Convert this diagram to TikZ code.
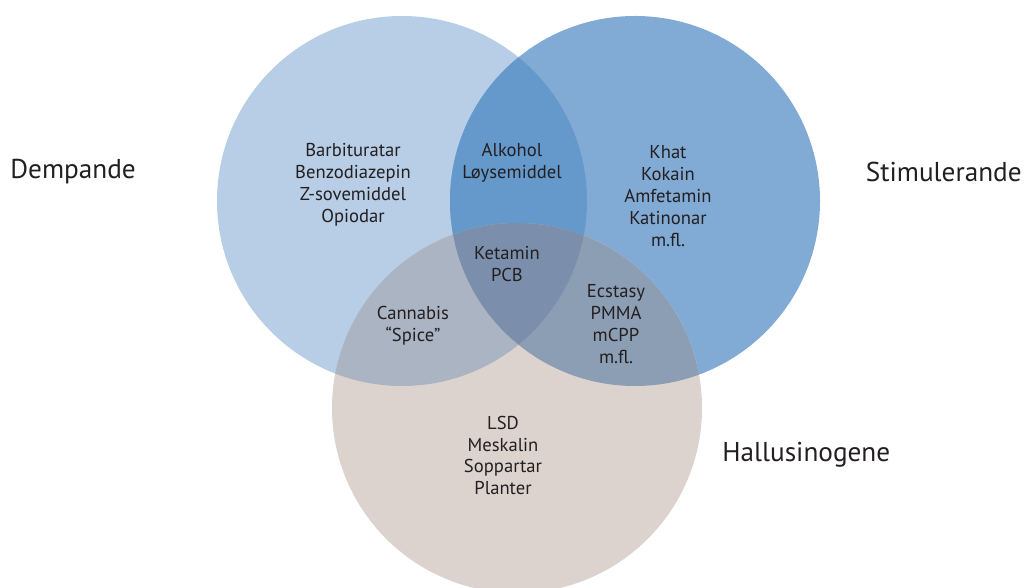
\documentclass[tikz,border=0pt]{standalone}
\usepackage{fontspec}
\setmainfont{PT Sans}
\usepackage{tikz}

\definecolor{textgray}{HTML}{231F20}
\definecolor{demfill}{HTML}{B7CEE6}
\definecolor{stimfill}{HTML}{81AAD4}
\definecolor{hallfill}{HTML}{DCD3CF}
\definecolor{demstim}{HTML}{6699CB}
\definecolor{demhall}{HTML}{AAB4C2}
\definecolor{stimhall}{HTML}{8C9EB4}
\definecolor{allthree}{HTML}{7B8FAC}

\begin{document}
\begin{tikzpicture}[
        every node/.style={text=textgray},
        group/.style={font=\fontsize{10.6}{12.5}\selectfont, align=center},
        heading/.style={font=\fontsize{15.5}{18}\selectfont, inner sep=0pt}
    ]
    \useasboundingbox (0,0) rectangle (20.5,11.76);

    % Circle centres
    \coordinate (dem) at (8.04,7.74);
    \coordinate (stim) at (12.70,7.74);
    \coordinate (hall) at (10.34,3.60);

    % Circles
    \fill[demfill] (dem) circle (3.7);
    \fill[stimfill] (stim) circle (3.7);
    \fill[hallfill] (hall) circle (3.7);

    % Overlaps
    \begin{scope}
        \clip (stim) circle (3.7);
        \fill[stimhall] (hall) circle (3.7);
    \end{scope}
    \begin{scope}
        \clip (dem) circle (3.7);
        \fill[demstim] (stim) circle (3.7);
        \fill[demhall] (hall) circle (3.7);
        \clip (stim) circle (3.7);
        \fill[allthree] (hall) circle (3.7);
    \end{scope}

    % Contents
    \node[group] (sedativ) at (7.06,8.06) {Barbituratar\\Benzodiazepin\\Z-sovemiddel\\Opiodar};
    \node[group] (alkohol) at (10.24,8.50) {Alkohol\\Løysemiddel};
    \node[group] (sentral) at (13.36,7.84) {Khat\\Kokain\\Amfetamin\\Katinonar\\m.fl.};
    \node[group] (ketamin) at (10.14,6.48) {Ketamin\\PCB};
    \node[group] (cannabis) at (8.26,5.24) {Cannabis\\“Spice”};
    \node[group] (ecstasy) at (12.32,5.27) {Ecstasy\\PMMA\\mCPP\\m.fl.};
    \node[group] (lsd) at (10.06,2.65) {LSD\\Meskalin\\Soppartar\\Planter};

    % Headings
    \node[heading, anchor=west] (dempande) at (0.2,8.32) {Dempande};
    \node[heading, anchor=east] (stimulerande) at (20.44,8.32) {Stimulerande};
    \node[heading, anchor=west] (hallusinogene) at (14.44,2.66) {Hallusinogene};

\end{tikzpicture}
\end{document}
